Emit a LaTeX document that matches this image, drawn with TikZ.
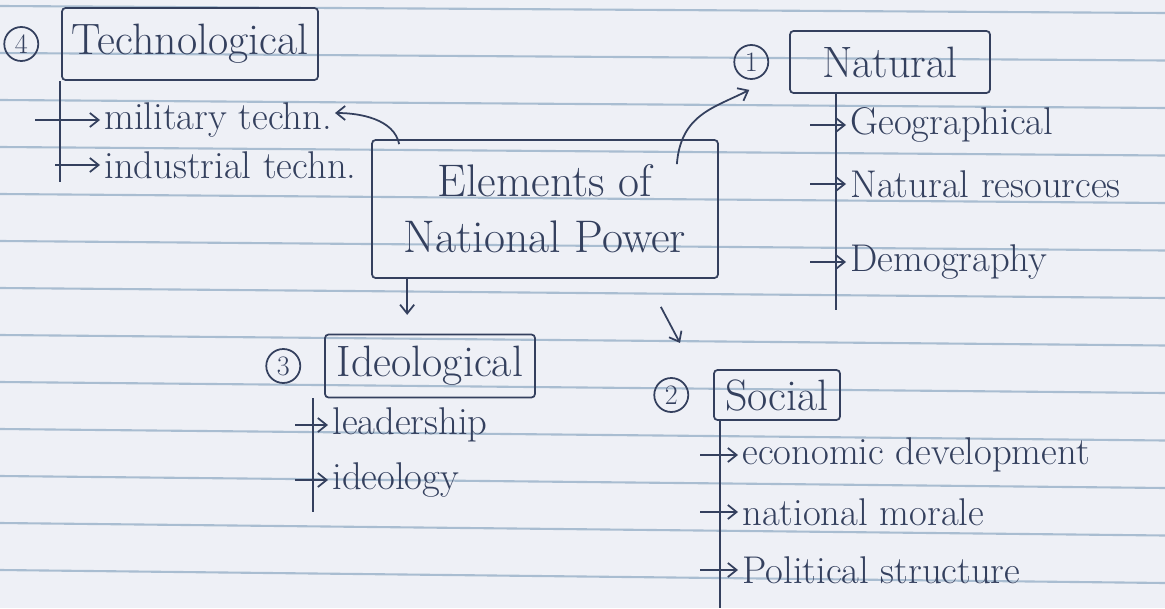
\documentclass[tikz,border=0pt]{standalone}
\usepackage{tikz}
\usetikzlibrary{arrows.meta,positioning}
\definecolor{ink}{HTML}{34405E}
\definecolor{paper}{HTML}{EEF0F6}
\definecolor{rule}{HTML}{A9BDD1}

\begin{document}
\begin{tikzpicture}[x=0.02cm,y=-0.02cm,line width=1pt,>={Straight Barb[length=5pt,width=8pt]},
  box/.style={draw=ink,rounded corners=2pt,text=ink,font=\fontsize{25}{30}\selectfont},
  num/.style={circle,draw=ink,text=ink,inner sep=0pt,minimum size=0.68cm,font=\fontsize{16}{18}\selectfont},
  item/.style={anchor=west,inner sep=2pt,text=ink,font=\fontsize{22}{26}\selectfont},
  branch/.style={draw=ink},
  link/.style={draw=ink,->}]
% ruled paper
\fill[paper] (0,0) rectangle (1165,608);
\useasboundingbox (0,0) rectangle (1165,608);
\foreach \k in {0,...,12}
  \draw[rule,line width=1.2pt] (0,{6+47*\k}) -- (1165,{13+47.5*\k});

% centre
\node[box,minimum width=6.92cm,minimum height=2.76cm,align=center,font=\fontsize{26}{32}\selectfont] (elem) at (545,209) {Elements of\\National Power};

% 1 natural
\node[box,minimum width=4cm,minimum height=1.24cm] (nat) at (890,62) {Natural};
\node[num,left=0.4cm of nat] (n1) {1};
\node[item] (geo) at (846,125) {Geographical};
\node[item] (res) at (846,184) {Natural resources};
\node[item] (demo) at (846,262) {Demography};
\coordinate (natend) at (836,310);
\draw[branch] (nat.south -| natend) -- (natend);
\draw[link] (geo.west) ++(-36,0) -- (geo.west);
\draw[link] (res.west) ++(-36,0) -- (res.west);
\draw[link] (demo.west) ++(-36,0) -- (demo.west);

% 4 technological
\node[box,minimum width=5.12cm,minimum height=1.44cm] (tech) at (190,44) {Technological};
\node[num,left=0.44cm of tech] (n4) {4};
\node[item] (mil) at (100,120) {military techn.};
\node[item] (ind) at (100,165) {industrial techn.};
\coordinate (techend) at (60,182);
\draw[branch] (tech.south -| techend) -- (techend);
\draw[link] (mil.west) ++(-65,0) -- (mil.west);
\draw[link] (ind.west) ++(-45,0) -- (ind.west);

% 3 ideological
\node[box,minimum width=4.2cm,minimum height=1.26cm] (ideo) at (430,366) {Ideological};
\node[num,left=0.46cm of ideo] (n3) {3};
\node[item] (lead) at (328,425) {leadership};
\node[item] (idl) at (328,480) {ideology};
\coordinate (ideoend) at (313,512);
\draw[branch] (ideo.south -| ideoend) -- (ideoend);
\draw[link] (lead.west) ++(-33,0) -- (lead.west);
\draw[link] (idl.west) ++(-33,0) -- (idl.west);

% 2 social
\node[box,minimum width=2.52cm,minimum height=1cm] (soc) at (777,395) {Social};
\node[num,left=0.48cm of soc] (n2) {2};
\node[item] (eco) at (738,455) {economic development};
\node[item] (mor) at (738,512) {national morale};
\node[item] (pol) at (738,570) {Political structure};
\coordinate (socend) at (720,608);
\draw[branch] (soc.south -| socend) -- (socend);
\draw[link] (eco.west) ++(-38,0) -- (eco.west);
\draw[link] (mor.west) ++(-38,0) -- (mor.west);
\draw[link] (pol.west) ++(-38,0) -- (pol.west);

% links out of the centre
\coordinate (techin) at (335,113);
\coordinate (socin) at (680,343);
\draw[link] ([shift={(-42,25)}]elem.north east) .. controls +(4,-50) and +(-35,18) .. ([shift={(-2,10)}]n1.south);
\draw[link] ([shift={(28,5)}]elem.north west) .. controls +(-5,-25) and +(25,0) .. (techin);
\draw[link] ([xshift=0.72cm]elem.south west) -- ++(0,36);
\draw[link] ([shift={(-58,28)}]elem.south east) -- (socin);
\end{tikzpicture}
\end{document}
